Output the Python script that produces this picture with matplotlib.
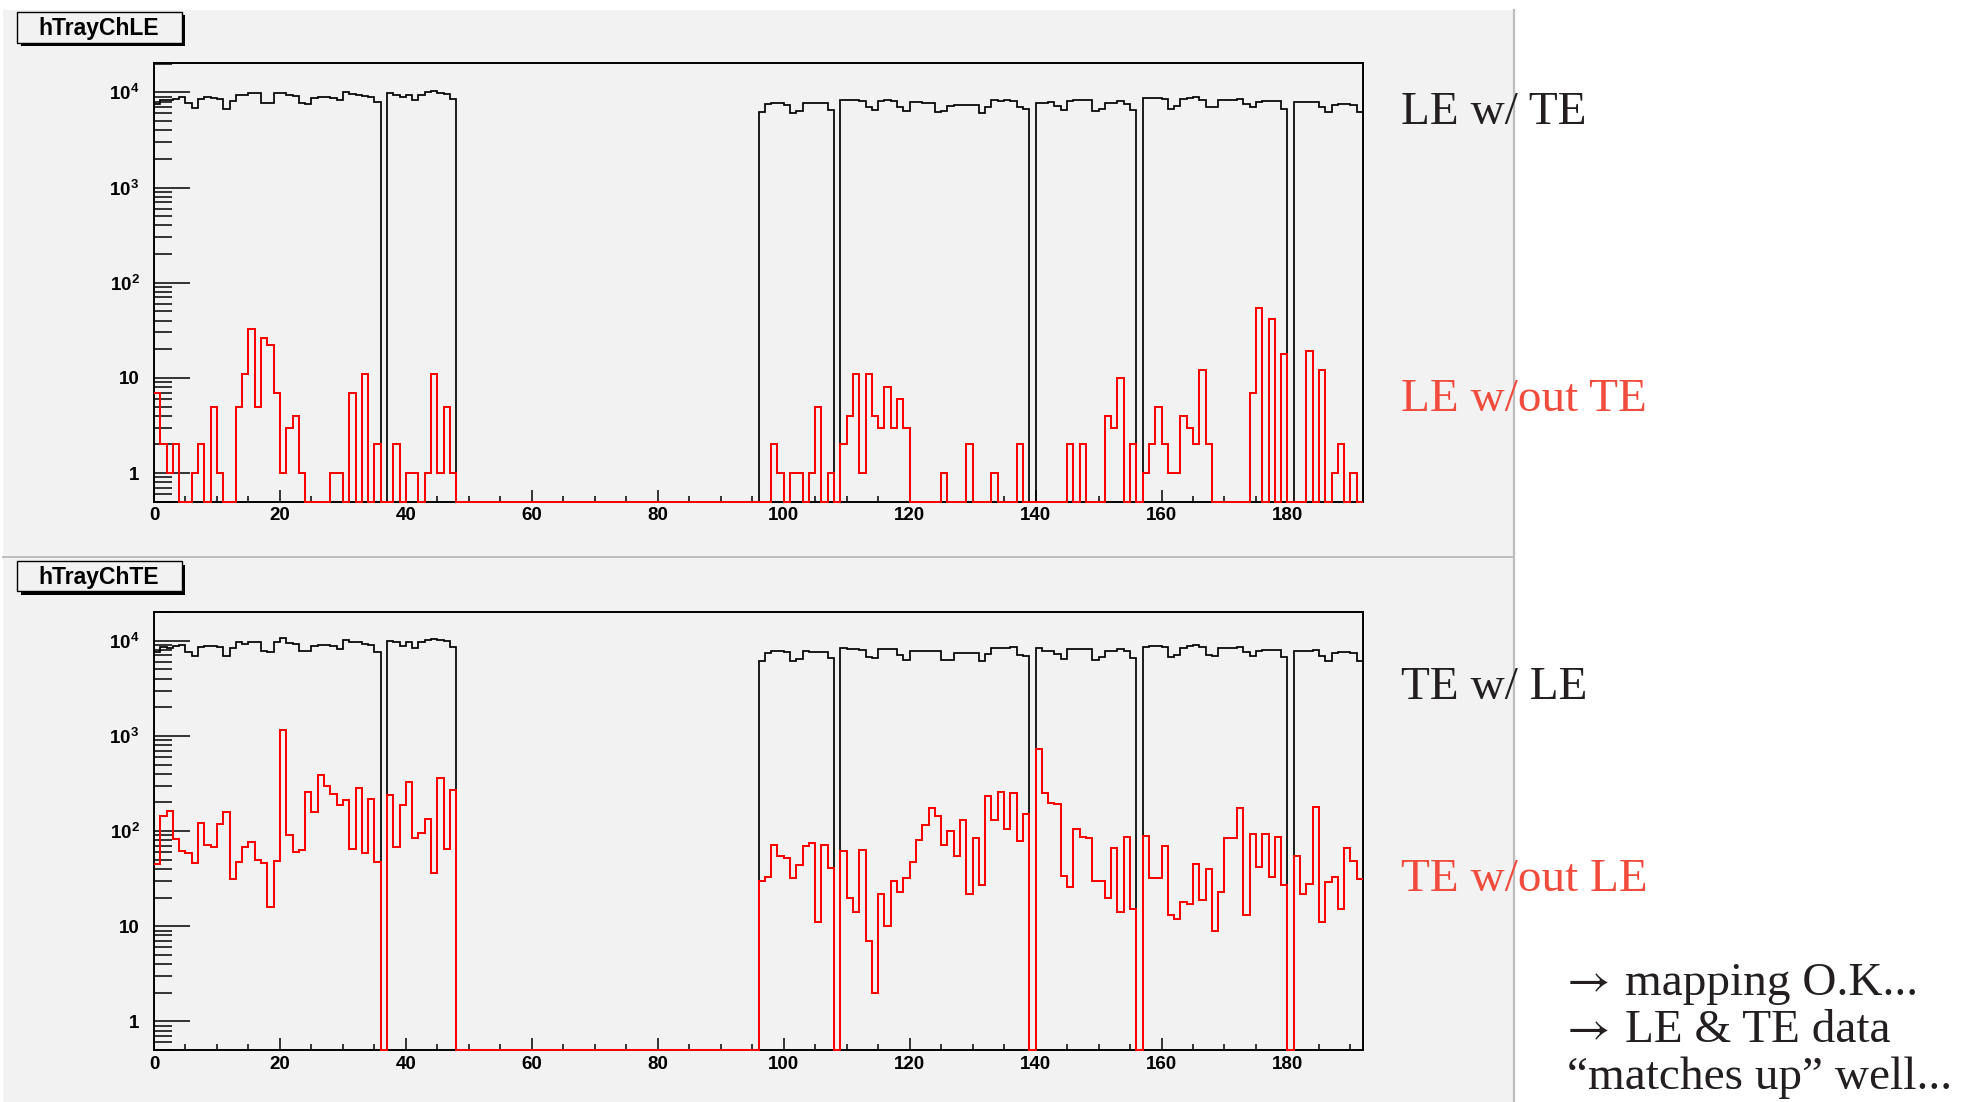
#!/usr/bin/env python3

import numpy as np
import matplotlib
matplotlib.use("Agg")
import matplotlib.pyplot as plt
from matplotlib.patches import Rectangle
from matplotlib.lines import Line2D
from matplotlib.ticker import LogLocator, MultipleLocator, NullFormatter

# ==========================
# DATA (counts per tray channel, 192 channels)
# ==========================
le_with_te = [
    7550, 8300, 8300, 8500, 9000, 7700, 6900, 8500, 8900, 8650, 8450, 6700,
    8200, 9400, 9400, 9750, 9750, 7800, 7750, 9750, 9750, 9400, 9250, 7750,
    7600, 8700, 8900, 8900, 8700, 8300, 10150, 9600, 9450, 9100, 9000, 7850,
    0, 9750, 9450, 8900, 9400, 8300, 9450, 10150, 10250, 9900, 9700, 8450,
    0, 0, 0, 0, 0, 0, 0, 0, 0, 0, 0, 0,
    0, 0, 0, 0, 0, 0, 0, 0, 0, 0, 0, 0,
    0, 0, 0, 0, 0, 0, 0, 0, 0, 0, 0, 0,
    0, 0, 0, 0, 0, 0, 0, 0, 0, 0, 0, 0,
    6150, 7550, 7730, 7730, 7430, 6000, 6400, 7800, 7800, 7650, 7650, 6600,
    0, 8400, 8250, 8400, 8200, 6950, 6550, 8200, 8250, 8200, 7100, 6300,
    8000, 7850, 7730, 7730, 6250, 6400, 7250, 7430, 7430, 7430, 7430, 6050,
    7100, 8400, 8200, 8300, 8200, 7100, 6700, 0, 7730, 7730, 7850, 7250,
    6550, 8200, 8300, 8300, 8300, 6400, 6700, 7800, 7800, 8200, 7550, 6600,
    0, 8650, 8700, 8700, 8500, 6700, 7150, 8500, 8700, 8850, 8300, 7100,
    7100, 8300, 8300, 8300, 8500, 7550, 6950, 8000, 8050, 8200, 8050, 6700,
    0, 8000, 7850, 7850, 7850, 7100, 6250, 7350, 7550, 7550, 7350, 6150,
]

le_without_te = [
    7, 2, 1, 2, 0, 0, 1, 2, 0, 5, 1, 0,
    0, 5, 11, 33, 5, 26, 22, 7, 1, 3, 4, 1,
    0, 0, 0, 0, 1, 1, 0, 7, 0, 11, 0, 2,
    0, 0, 2, 0, 1, 1, 0, 1, 11, 1, 5, 1,
    0, 0, 0, 0, 0, 0, 0, 0, 0, 0, 0, 0,
    0, 0, 0, 0, 0, 0, 0, 0, 0, 0, 0, 0,
    0, 0, 0, 0, 0, 0, 0, 0, 0, 0, 0, 0,
    0, 0, 0, 0, 0, 0, 0, 0, 0, 0, 0, 0,
    0, 0, 2, 1, 0, 1, 1, 0, 1, 5, 0, 1,
    0, 2, 4, 11, 1, 11, 4, 3, 8, 3, 6, 3,
    0, 0, 0, 0, 0, 1, 0, 0, 0, 2, 0, 0,
    0, 1, 0, 0, 0, 2, 0, 0, 0, 0, 0, 0,
    0, 2, 0, 2, 0, 0, 0, 4, 3, 10, 0, 2,
    0, 1, 2, 5, 2, 1, 1, 4, 3, 2, 12, 2,
    0, 0, 0, 0, 0, 0, 7, 54, 0, 42, 0, 18,
    0, 0, 0, 19, 0, 12, 0, 1, 2, 0, 1, 0,
]

te_with_le = [
    7540, 8510, 8310, 8720, 9000, 7540, 6840, 8510, 8860, 8720, 8510, 6840,
    8310, 9600, 9220, 9760, 9760, 7850, 7540, 9760, 10750, 9450, 9220, 7720,
    7720, 8860, 9080, 9000, 8860, 8170, 10160, 9600, 9600, 9220, 9080, 7660,
    0, 10000, 9600, 8860, 9600, 8310, 9600, 10250, 10410, 10160, 10000, 8510,
    0, 0, 0, 0, 0, 0, 0, 0, 0, 0, 0, 0,
    0, 0, 0, 0, 0, 0, 0, 0, 0, 0, 0, 0,
    0, 0, 0, 0, 0, 0, 0, 0, 0, 0, 0, 0,
    0, 0, 0, 0, 0, 0, 0, 0, 0, 0, 0, 0,
    6160, 7360, 7720, 7720, 7540, 6070, 6410, 7720, 7660, 7540, 7540, 6520,
    0, 8310, 8170, 8170, 8040, 6790, 6520, 8170, 8170, 8170, 7060, 6310,
    7850, 7720, 7720, 7720, 7720, 6260, 6310, 7360, 7420, 7420, 7420, 6070,
    7240, 8310, 8310, 8310, 8510, 7060, 6840, 0, 8310, 7850, 7850, 7240,
    6410, 8170, 8170, 8170, 8170, 6310, 6680, 7720, 7720, 8170, 7850, 6520,
    0, 8650, 8720, 8720, 8510, 6680, 7060, 8370, 8720, 9000, 8650, 7060,
    6950, 8310, 8310, 8310, 8650, 7540, 6950, 7850, 8040, 8040, 8040, 6680,
    0, 7850, 7720, 7850, 8040, 6950, 6160, 7420, 7540, 7540, 7420, 6070,
]

te_without_le = [
    45, 144, 162, 82, 62, 59, 46, 122, 71, 68, 120, 160,
    31, 47, 68, 77, 50, 46, 16, 49, 1150, 92, 60, 63,
    259, 158, 385, 298, 243, 186, 212, 64, 286, 59, 219, 47,
    0, 239, 68, 188, 331, 85, 95, 135, 36, 364, 64, 272,
    0, 0, 0, 0, 0, 0, 0, 0, 0, 0, 0, 0,
    0, 0, 0, 0, 0, 0, 0, 0, 0, 0, 0, 0,
    0, 0, 0, 0, 0, 0, 0, 0, 0, 0, 0, 0,
    0, 0, 0, 0, 0, 0, 0, 0, 0, 0, 0, 0,
    30, 33, 71, 55, 52, 32, 44, 70, 75, 11, 71, 41,
    0, 61, 20, 14, 63, 7, 2, 22, 10, 30, 23, 32,
    47, 80, 115, 176, 144, 72, 100, 55, 130, 22, 84, 27,
    233, 130, 259, 106, 253, 79, 152, 0, 724, 253, 199, 194,
    34, 26, 104, 87, 85, 30, 30, 20, 66, 14, 87, 15,
    0, 89, 32, 32, 70, 13, 12, 18, 17, 45, 19, 40,
    9, 23, 84, 85, 173, 13, 94, 42, 94, 33, 87, 27,
    0, 55, 22, 28, 179, 11, 29, 33, 15, 66, 49, 31,
]

panel_titles = ["hTrayChLE", "hTrayChTE"]
side_labels = [("LE w/ TE", "LE w/out TE"), ("TE w/ LE", "TE w/out LE")]
# (leading arrow, text) for the notes in the lower right corner
notes = [("\u2192", "mapping O.K..."), ("\u2192", "LE & TE data"), ("", "\u201cmatches up\u201d well...")]

x_ticks = [0, 20, 40, 60, 80, 100, 120, 140, 160, 180]
y_ticks = [1, 10, 100, 1000, 10000]
y_tick_labels = ["1", "10", "$10^{2}$", "$10^{3}$", "$10^{4}$"]

# ==========================
# STYLE OPTIONS
# ==========================
W, H = 1965, 1102
DPI = 100
YMIN, YMAX = 0.5, 2.02e4

PANEL_GREY = "#f2f2f2"
BORDER_GREY = "#bdbdbd"
DARK_TEXT = "#231f20"
RED_TEXT = "#f04b3c"

HIST_LW = 1.25
SPINE_LW = 1.4
TICK_W = 1.1
TICK_SIZE = 13.5
SIDE_SIZE = 34
TITLE_SIZE = 16.5

SANS = ["Liberation Sans", "DejaVu Sans"]
SERIF = ["Liberation Serif", "DejaVu Serif"]
ARROW_FONT = ["STIXGeneral", "DejaVu Serif"]

plt.rcParams["font.family"] = SANS
plt.rcParams["font.weight"] = "bold"
plt.rcParams["mathtext.fontset"] = "custom"
plt.rcParams["mathtext.rm"] = "Liberation Sans:bold"
plt.rcParams["mathtext.it"] = "Liberation Sans:bold"
plt.rcParams["mathtext.bf"] = "Liberation Sans:bold"


def fx(px):
    return px / W


def fy(py):
    return 1.0 - py / H


# ==========================
# FIGURE + CANVAS PANELS
# ==========================
fig = plt.figure(figsize=(W / DPI, H / DPI), dpi=DPI)
fig.patch.set_facecolor("white")

# two grey canvas pads, stacked
fig.add_artist(Rectangle((fx(3), fy(556)), fx(1513) - fx(3), (556 - 10) / H,
                         transform=fig.transFigure, fc=PANEL_GREY, ec="none", zorder=0))
fig.add_artist(Rectangle((fx(3), fy(1102)), fx(1513) - fx(3), (1102 - 558) / H,
                         transform=fig.transFigure, fc=PANEL_GREY, ec="none", zorder=0))
fig.add_artist(Line2D([fx(3), fx(1513)], [fy(557), fy(557)],
                      transform=fig.transFigure, color=BORDER_GREY, lw=1.4, zorder=1))
fig.add_artist(Line2D([fx(1514), fx(1514)], [fy(10), fy(1102)],
                      transform=fig.transFigure, color=BORDER_GREY, lw=1.6, zorder=1))

# ==========================
# HISTOGRAM PANELS
# ==========================
axes_px = [(63.3, 501.7), (611.7, 1050.0)]   # top / bottom frame edges in pixels
series = [(le_with_te, le_without_te), (te_with_le, te_without_le)]

for (top_px, bot_px), (black_vals, red_vals) in zip(axes_px, series):
    ax = fig.add_axes([fx(154), fy(bot_px), fx(1363) - fx(154), (bot_px - top_px) / H])
    ax.set_facecolor("none")

    edges = np.arange(len(black_vals) + 1)
    black = np.asarray(black_vals, dtype=float)
    red = np.asarray(red_vals, dtype=float)

    # empty channels sit on the axis floor, as in ROOT log plots
    ax.stairs(np.where(black > 0, black, YMIN), edges, baseline=None,
              color="black", lw=HIST_LW, clip_on=False, zorder=3)
    ax.stairs(np.where(red > 0, red, YMIN), edges, baseline=None,
              color="#ff0000", lw=HIST_LW + 0.2, clip_on=False, zorder=4)

    ax.set_yscale("log")
    ax.set_xlim(edges[0], edges[-1])
    ax.set_ylim(YMIN, YMAX)

    ax.set_yticks(y_ticks)
    ax.set_yticklabels(y_tick_labels)
    ax.yaxis.set_minor_locator(LogLocator(base=10, subs=np.arange(2, 10), numticks=20))
    ax.yaxis.set_minor_formatter(NullFormatter())

    ax.set_xticks(x_ticks)
    ax.set_xticklabels([str(t) for t in x_ticks])
    ax.xaxis.set_minor_locator(MultipleLocator(5))

    ax.tick_params(axis="y", which="major", direction="in", length=26, width=TICK_W,
                   pad=10.5, labelsize=TICK_SIZE)
    ax.tick_params(axis="y", which="minor", direction="in", length=13, width=TICK_W)
    ax.tick_params(axis="x", which="major", direction="in", length=8.9, width=TICK_W,
                   pad=4.0, labelsize=TICK_SIZE)
    ax.tick_params(axis="x", which="minor", direction="in", length=4.3, width=TICK_W)

    for lab in ax.get_xticklabels() + ax.get_yticklabels():
        lab.set_fontweight("bold")

    for spine in ax.spines.values():
        spine.set_linewidth(SPINE_LW)
        spine.set_zorder(2)

# ==========================
# TITLE BOXES (with drop shadow)
# ==========================
title_boxes = [(11.7, 42.7, 35.0), (561.0, 591.0, 584.0)]   # box top, box bottom, text baseline
for title, (b_top, b_bot, base) in zip(panel_titles, title_boxes):
    fig.add_artist(Rectangle((fx(21.0), fy(b_bot + 3.5)), fx(185.2) - fx(21.0), (b_bot - b_top) / H,
                             transform=fig.transFigure, fc="black", ec="none", zorder=5))
    fig.add_artist(Rectangle((fx(17.3), fy(b_bot)), fx(181.7) - fx(17.3), (b_bot - b_top) / H,
                             transform=fig.transFigure, fc=PANEL_GREY, ec="black", lw=1.0, zorder=6))
    fig.text(fx(99.0), fy(base), title, fontsize=TITLE_SIZE, fontweight="bold",
             family=SANS, ha="center", va="baseline", zorder=7)

# ==========================
# SIDE LABELS + NOTES
# ==========================
side_baselines = [(123.6, 411.4), (699.3, 891.0)]
for (lab_w, lab_wo), (y_w, y_wo) in zip(side_labels, side_baselines):
    fig.text(fx(1401), fy(y_w), lab_w, fontsize=SIDE_SIZE, family=SERIF, fontweight="normal",
             color=DARK_TEXT, ha="left", va="baseline", zorder=8)
    fig.text(fx(1401), fy(y_wo), lab_wo, fontsize=SIDE_SIZE, family=SERIF, fontweight="normal",
             color=RED_TEXT, ha="left", va="baseline", zorder=8)

for (arrow, note), base in zip(notes, [994.8, 1042.0, 1089.0]):
    if arrow:
        fig.text(fx(1567), fy(base), arrow, fontsize=SIDE_SIZE, family=ARROW_FONT,
                 fontweight="normal", color=DARK_TEXT, ha="left", va="baseline", zorder=8)
        x_text = 1625
    else:
        x_text = 1567
    fig.text(fx(x_text), fy(base), note, fontsize=SIDE_SIZE, family=SERIF, fontweight="normal",
             color=DARK_TEXT, ha="left", va="baseline", zorder=8)

# ==========================
# SAVE
# ==========================
fig.savefig("out.png", dpi=DPI)
plt.close(fig)
